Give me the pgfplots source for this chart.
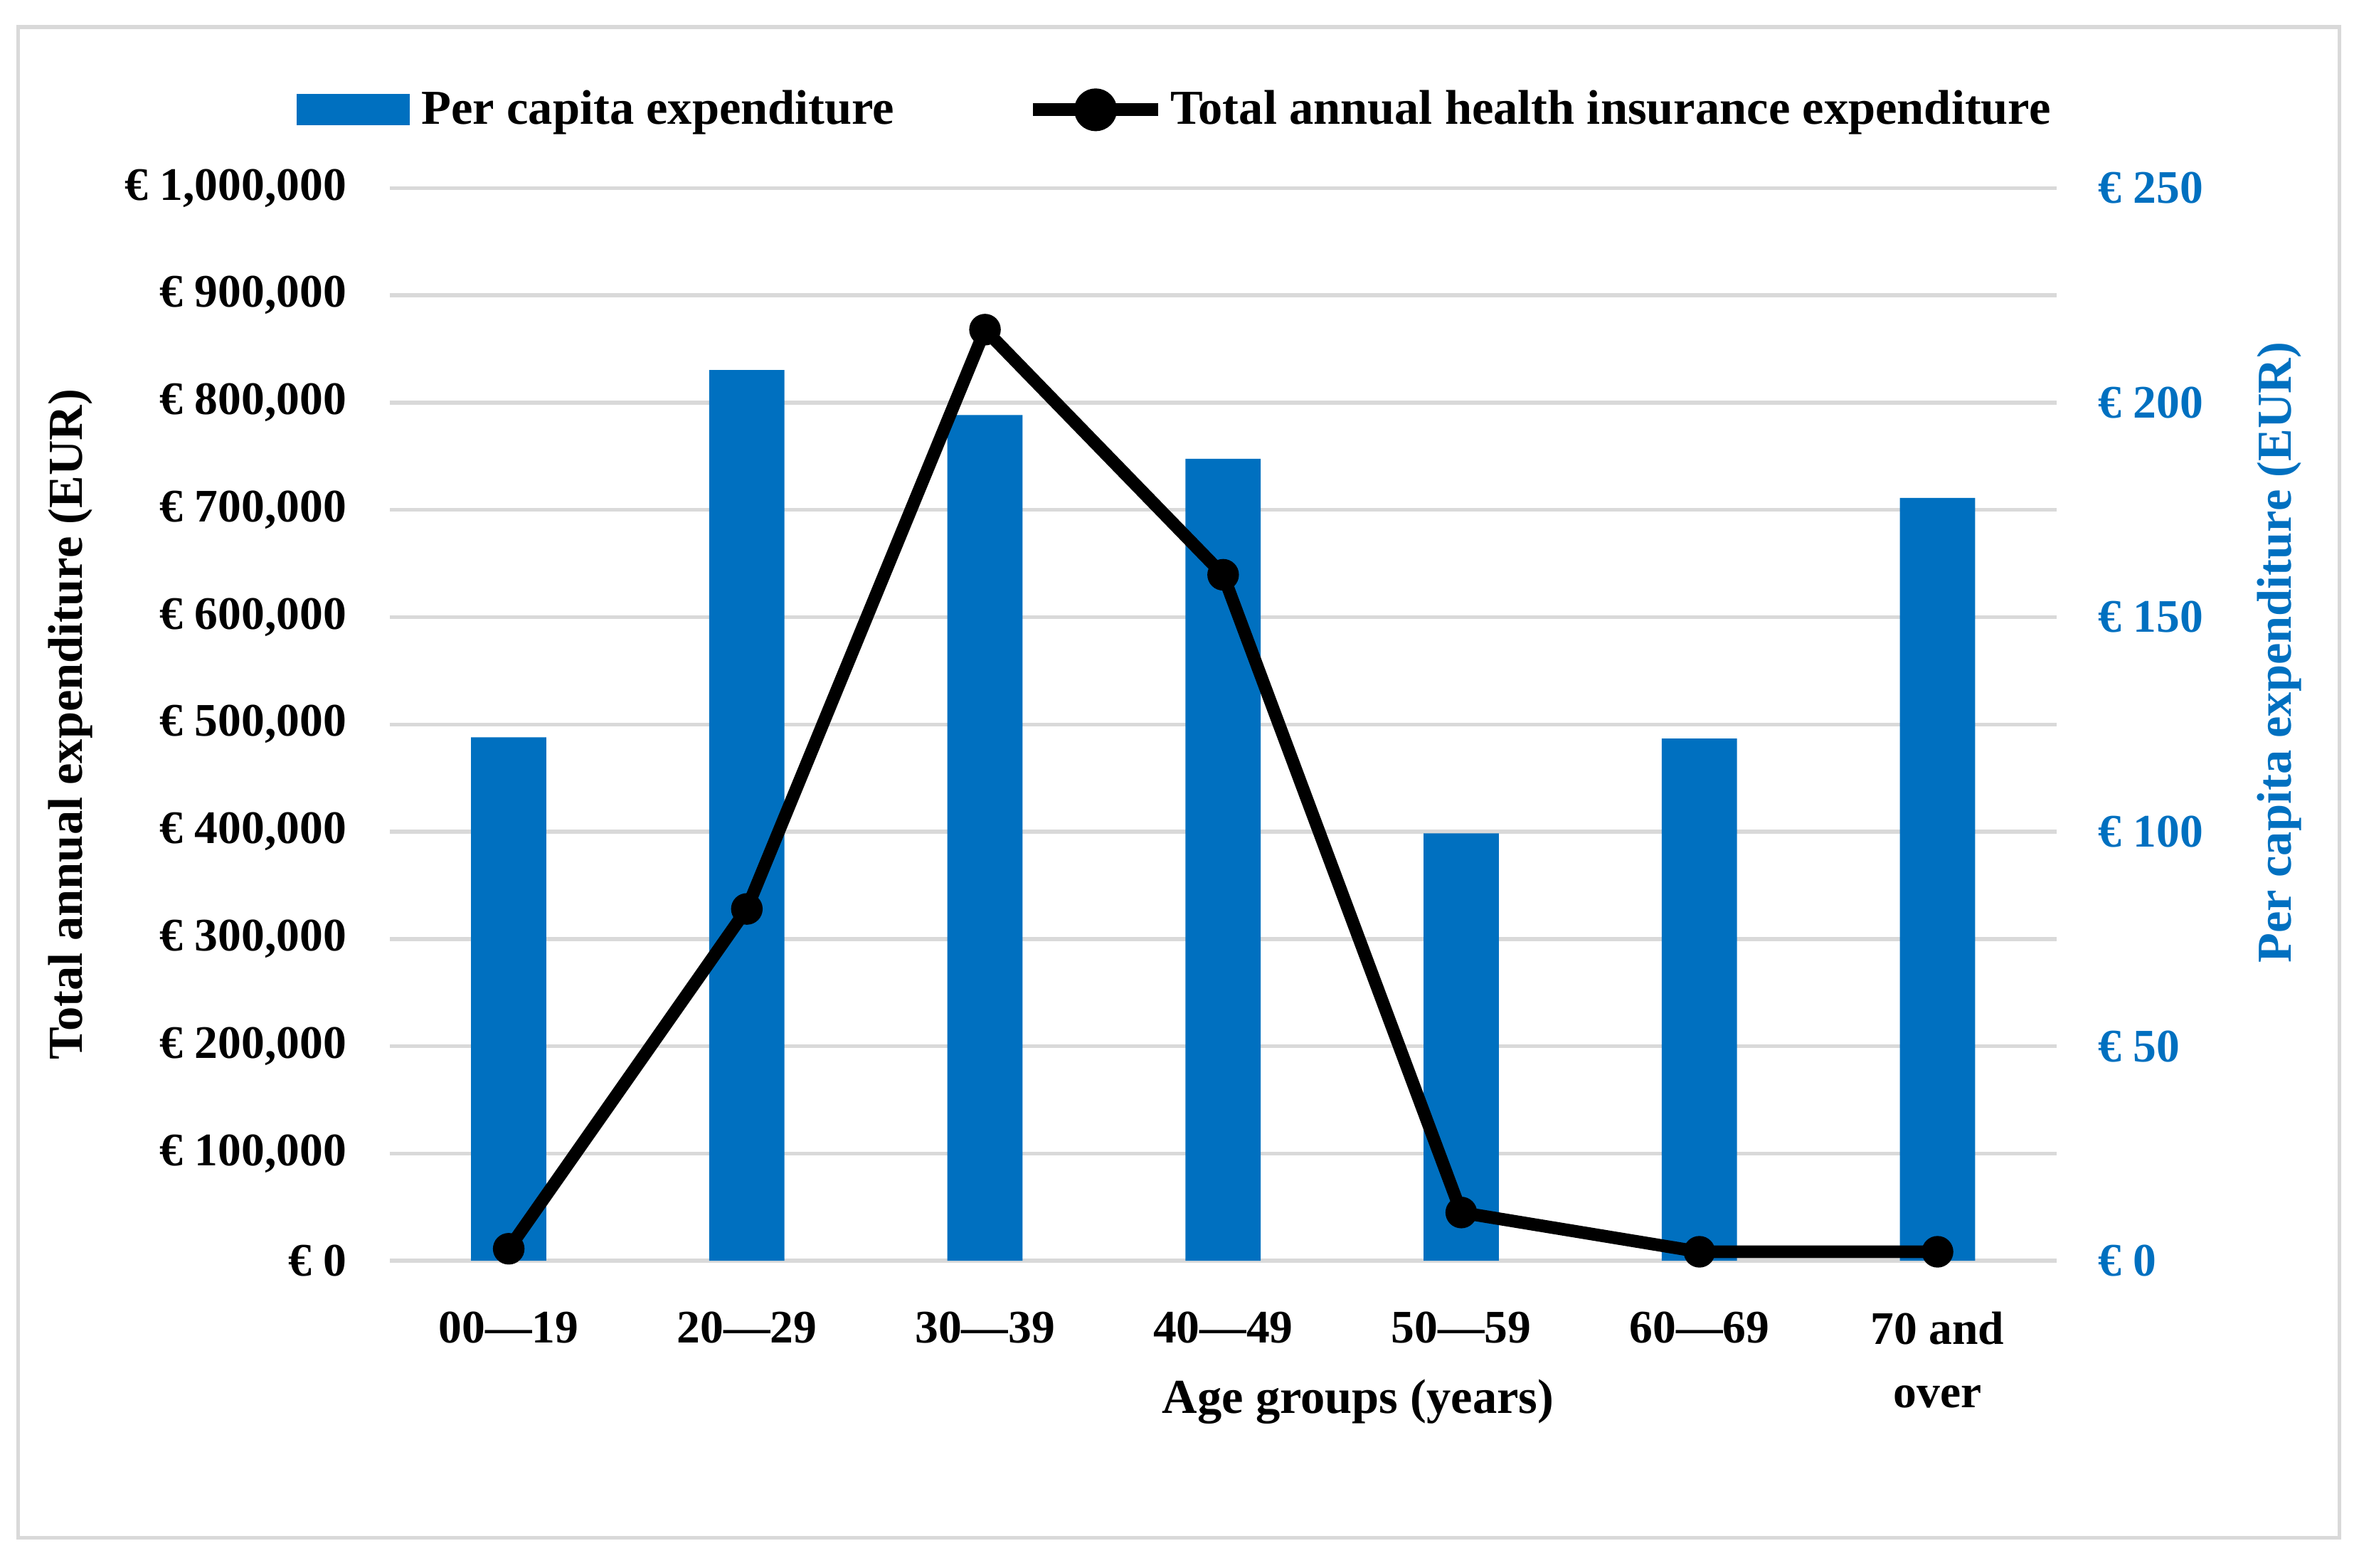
\documentclass[border=0pt]{standalone}
\usepackage{fontspec}
\setmainfont{Liberation Serif}
\usepackage{pgfplots}
\pgfplotsset{compat=1.18}
\definecolor{barblue}{HTML}{0070C0}
\definecolor{gridgray}{HTML}{D9D9D9}

\newcommand{\lbl}{\bfseries\fontsize{15.5}{21}\selectfont}
\newcommand{\lblbig}{\bfseries\fontsize{16.2}{21}\selectfont}

\pgfplotsset{common/.style={
    scale only axis, width=554pt, height=356.5pt,
    xmin=-0.5, xmax=6.5,
    axis line style={draw=none},
    major tick length=0pt, minor tick length=0pt,
    tick label style={font=\lbl},
    label style={font=\lblbig},
}}

\begin{document}
\begin{tikzpicture}
\useasboundingbox (-129.5pt,-102pt) rectangle (654.5pt,419pt);
\draw[gridgray, line width=1.3pt] (-123.5pt,-92pt) rectangle (648pt,410pt);

% per capita expenditure (bars, right axis)
\begin{axis}[common,
    axis y line*=right, axis x line*=bottom,
    ymin=0, ymax=250,
    ytick={0,50,100,150,200,250}, minor ytick={25,75,125,175,225},
    yticklabels={€ 0,€ 50,€ 100,€ 150,€ 200,€ 250},
    yticklabel style={anchor=west, xshift=10.3pt, text=barblue},
    ymajorgrids, yminorgrids,
    grid style={gridgray, line width=1.3pt},
    xtick=data,
    xticklabels={00—19,20—29,30—39,40—49,50—59,60—69,70 and\\over},
    xticklabel style={align=center, yshift=-13.5pt},
    xlabel={Age groups (years)},
    xlabel style={at={(axis description cs:0.581,0)}, anchor=north, yshift=-36pt},
    ylabel={Per capita expenditure (EUR)},
    ylabel style={at={([xshift=74pt]axis description cs:1,0.567)}, anchor=center, text=barblue},
]
\addplot[ybar, bar width=25pt, fill=barblue, draw=none] coordinates {
    (0,122.0) (1,207.6) (2,197.1) (3,186.9) (4,99.6) (5,121.7) (6,177.8)
};
\end{axis}

% total annual expenditure (line, left axis)
\begin{axis}[common,
    axis y line*=left, hide x axis,
    ymin=0, ymax=1000000,
    ytick={0,100000,200000,300000,400000,500000,600000,700000,800000,900000,1000000},
    yticklabels={{€ 0},{€ 100,000},{€ 200,000},{€ 300,000},{€ 400,000},{€ 500,000},
        {€ 600,000},{€ 700,000},{€ 800,000},{€ 900,000},{€ 1,000,000}},
    scaled y ticks=false,
    yticklabel style={anchor=east, xshift=-10.8pt},
    ylabel={Total annual expenditure (EUR)},
    ylabel style={at={([xshift=-106pt]axis description cs:0,0.5)}, anchor=center},
    clip=false,
    legend style={at={([xshift=-31pt,yshift=26pt]axis description cs:0,1)}, anchor=west,
        draw=none, fill=none, inner sep=0pt, legend columns=2, font=\lblbig,
        /tikz/every even column/.append style={column sep=42pt}},
    legend cell align=left,
]
\addlegendimage{legend image code/.code={\fill[barblue] (0pt,-5pt) rectangle (37pt,5pt);
    \path (39pt,0pt);}}
\addlegendentry{Per capita expenditure}
\addplot[black, line width=4.2pt, line join=round, mark=*, mark size=5pt,
    mark options={fill=black, line width=0.5pt},
    legend image code/.code={\draw[black, line width=4.2pt] (0pt,0pt) -- (41.5pt,0pt);
        \fill[black] (20.75pt,0pt) circle (5pt);}]
coordinates {
    (0,11200) (1,328000) (2,868000) (3,639500) (4,45000) (5,8400) (6,8400)
};
\addlegendentry{Total annual health insurance expenditure}
\end{axis}
\end{tikzpicture}
\end{document}
